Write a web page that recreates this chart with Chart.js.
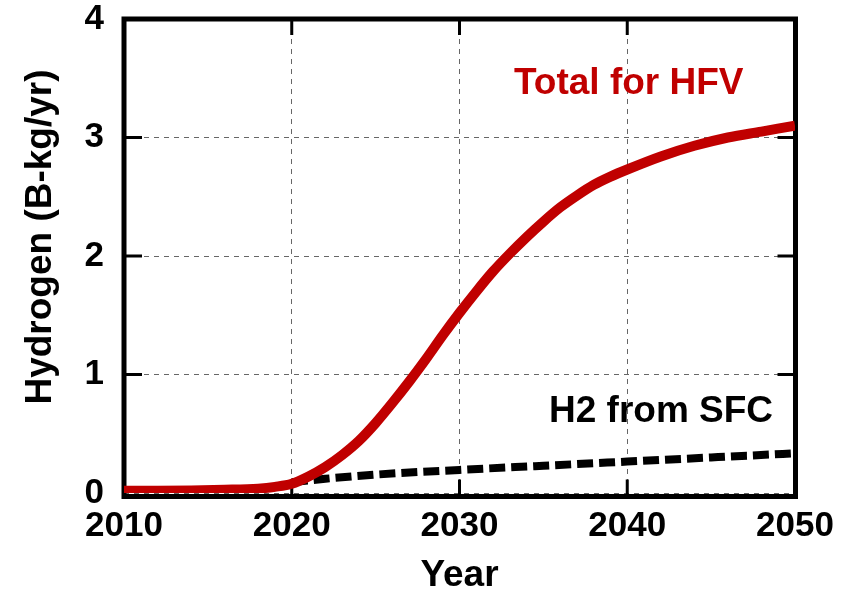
<!DOCTYPE html>
<html>
<head>
<meta charset="utf-8">
<script src="https://cdn.jsdelivr.net/npm/chart.js@4.4.1/dist/chart.umd.min.js"></script>
<style>
  html, body { margin: 0; padding: 0; background: #fff; }
</style>
</head>
<body>
<canvas id="h2-chart" width="849" height="589"></canvas>
<script>
/* ── Data ── */
const HFV_YEARS = [2010, 2012, 2014, 2016, 2018, 2019, 2020, 2021, 2022, 2023, 2024, 2025,
                   2026, 2027, 2028, 2029, 2030, 2031, 2032, 2033, 2034, 2035, 2036, 2037,
                   2038, 2039, 2040, 2042, 2044, 2046, 2048, 2050];
const HFV_TOTAL = [0.02, 0.02, 0.022, 0.027, 0.037, 0.052, 0.078, 0.14, 0.22, 0.32, 0.44, 0.59,
                   0.76, 0.94, 1.13, 1.33, 1.52, 1.70, 1.87, 2.02, 2.16, 2.29, 2.41, 2.51,
                   2.60, 2.67, 2.73, 2.84, 2.93, 3.00, 3.05, 3.10];

const SFC_YEARS = [2020, 2022, 2025, 2030, 2035, 2040, 2045, 2050];
const SFC_H2    = [0.09, 0.12, 0.155, 0.195, 0.23, 0.265, 0.30, 0.335];

const X_TICKS = [2010, 2020, 2030, 2040, 2050];
const Y_TICKS = [0, 1, 2, 3, 4];

/* ── Constants ── */
const FONT  = "'Liberation Sans', Arial, sans-serif";
const RED   = '#c00000';
const GRID  = '#666';

const toPoints = (xs, ys) => xs.map((x, i) => ({ x, y: ys[i] }));

/* ── Frame, inward ticks and labels ── */
const framePlugin = {
  id: 'frame',
  beforeDatasetsDraw(chart) {
    const { ctx, chartArea: a, scales: { x, y } } = chart;
    const right  = a.right + 0.5;
    const bottom = a.bottom + 3.5;

    ctx.save();
    ctx.strokeStyle = '#000';
    ctx.lineWidth   = 3;
    ctx.beginPath();
    X_TICKS.slice(1, -1).forEach(v => {
      const px = x.getPixelForValue(v);
      ctx.moveTo(px, a.top);    ctx.lineTo(px, a.top + 16);
      ctx.moveTo(px, bottom);   ctx.lineTo(px, bottom - 17);
    });
    Y_TICKS.slice(1, -1).forEach(v => {
      const py = y.getPixelForValue(v);
      ctx.moveTo(a.left, py);   ctx.lineTo(a.left + 18, py);
      ctx.moveTo(right, py);    ctx.lineTo(right - 18, py);
    });
    ctx.stroke();

    ctx.lineWidth = 5;
    ctx.strokeRect(a.left, a.top, right - a.left, bottom - a.top);
    ctx.restore();
  },
  afterDraw(chart) {
    const { ctx } = chart;
    ctx.save();
    ctx.font = `bold 37px ${FONT}`;
    ctx.textBaseline = 'alphabetic';

    ctx.fillStyle = RED;
    ctx.textAlign = 'left';
    ctx.fillText('Total for HFV', 514, 94);

    ctx.fillStyle = '#000';
    ctx.fillText('H2 from SFC', 549, 422);

    ctx.translate(51, 237);
    ctx.rotate(-Math.PI / 2);
    ctx.textAlign = 'center';
    ctx.fillText('Hydrogen (B-kg/yr)', 0, 0);
    ctx.restore();
  },
};

/* ── Chart ── */
new Chart(document.getElementById('h2-chart'), {
  type: 'line',
  plugins: [framePlugin],
  data: {
    datasets: [
      {
        label:                  'Total for HFV',
        data:                   toPoints(HFV_YEARS, HFV_TOTAL),
        borderColor:            RED,
        borderWidth:            10,
        borderJoinStyle:        'round',
        pointRadius:            0,
        cubicInterpolationMode: 'monotone',
      },
      {
        label:                  'H2 from SFC',
        data:                   toPoints(SFC_YEARS, SFC_H2),
        borderColor:            '#000',
        borderWidth:            8,
        borderDash:             [16, 6],
        pointRadius:            0,
        cubicInterpolationMode: 'monotone',
      },
    ],
  },
  options: {
    responsive: false,
    animation:  false,
    layout: { padding: { top: 0, right: 54, left: 0, bottom: 0 } },
    plugins: {
      legend:  { display: false },
      tooltip: { enabled: false },
    },
    scales: {
      x: {
        type: 'linear',
        min:  X_TICKS[0],
        max:  X_TICKS[X_TICKS.length - 1],
        afterBuildTicks: s => { s.ticks = X_TICKS.map(value => ({ value })); },
        afterFit: s => { s.height = 96; },
        grid:   { color: GRID, lineWidth: 1, drawTicks: false },
        border: { display: false, dash: [5, 5] },
        ticks: {
          color:    '#000',
          padding:  12,
          maxRotation: 0,
          font: { family: FONT, size: 35, weight: 'bold', lineHeight: 1.2 },
          callback: v => String(v),
        },
        title: {
          display: true,
          text:    'Year',
          color:   '#000',
          padding: 0,
          font: { family: FONT, size: 37, weight: 'bold', lineHeight: 0.73 },
        },
      },
      y: {
        min: Y_TICKS[0],
        max: Y_TICKS[Y_TICKS.length - 1],
        afterBuildTicks: s => { s.ticks = Y_TICKS.map(value => ({ value })); },
        afterFit: s => { s.width = 124; s.paddingTop = 19; s.paddingBottom = 0; },
        grid:   { color: GRID, lineWidth: 1, drawTicks: false },
        border: { display: false, dash: [5, 5] },
        ticks: {
          color:   '#000',
          padding: 20,
          font: { family: FONT, size: 35, weight: 'bold', lineHeight: 1.2 },
        },
      },
    },
  },
});
</script>
</body>
</html>
